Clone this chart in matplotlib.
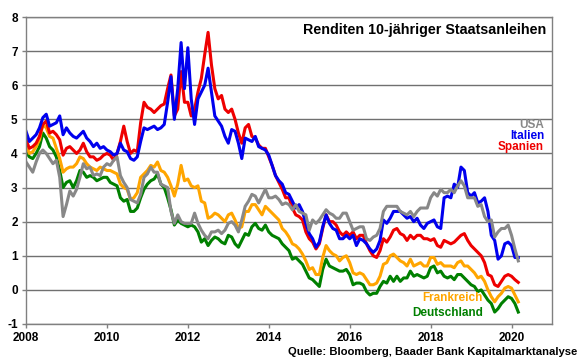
import matplotlib
matplotlib.use("Agg")
import matplotlib.pyplot as plt
import pandas as pd
import numpy as np

plt.rcParams['font.family'] = ['Liberation Sans', 'DejaVu Sans']
plt.rcParams['font.weight'] = 'bold'

dates = pd.date_range('2008-01-01', '2020-03-01', freq='MS')

italien = [
    4.65, 4.35, 4.45, 4.55, 4.75, 5.05, 5.15, 4.8, 4.85, 4.9, 5.1, 4.55,
    4.75, 4.6, 4.5, 4.45, 4.55, 4.65, 4.45, 4.35, 4.2, 4.3, 4.15, 4.2,
    4.1, 4.05, 3.95, 4.0, 4.3, 4.1, 4.05, 3.85, 3.8, 3.9, 4.35, 4.75,
    4.7, 4.75, 4.8, 4.7, 4.75, 4.85, 5.5, 6.25, 5.0, 5.9, 7.25, 5.9,
    7.1, 5.6, 4.85, 5.6, 5.8, 6.0, 6.5, 5.8, 5.1, 4.95, 4.8, 4.5,
    4.3, 4.7, 4.65, 4.3, 3.85, 4.45, 4.4, 4.35, 4.5, 4.2, 4.15, 4.1,
    3.95, 3.65, 3.35, 3.2, 3.1, 2.85, 2.8, 2.6, 2.4, 2.5, 2.3, 1.95,
    1.65, 1.5, 1.25, 1.4, 1.85, 2.2, 1.95, 1.8, 1.75, 1.5, 1.5, 1.6,
    1.5, 1.6, 1.3, 1.5, 1.45, 1.35, 1.2, 1.1, 1.2, 1.45, 2.05, 1.95,
    2.1, 2.3, 2.3, 2.3, 2.2, 2.1, 2.15, 2.0, 2.1, 1.9, 1.8, 1.95,
    2.0, 2.05, 1.85, 1.8, 2.7, 2.75, 2.7, 3.1, 3.0, 3.6, 3.5, 2.85,
    2.75, 2.85, 2.55, 2.6, 2.7, 2.3, 1.6, 1.45, 0.9, 1.0, 1.35, 1.4,
    1.3, 0.95, 0.95,
]
spanien = [
    4.4, 4.15, 4.2, 4.3, 4.5, 4.85, 4.95, 4.6, 4.65, 4.55, 4.4, 3.95,
    4.15, 4.2, 4.1, 4.0, 4.1, 4.3, 4.05, 3.9, 3.9, 3.8, 3.85, 3.95,
    4.0, 3.95, 3.8, 4.0, 4.35, 4.8, 4.35, 4.0, 4.1, 4.05, 4.9, 5.5,
    5.35, 5.3, 5.2, 5.3, 5.4, 5.45, 5.9, 6.3, 5.1, 5.3, 6.4, 5.5,
    5.5, 5.1, 5.3, 5.8, 6.2, 6.9, 7.55, 6.6, 5.9, 5.6, 5.7, 5.3,
    5.2, 5.3, 5.0, 4.6, 4.3, 4.75, 4.85, 4.5, 4.45, 4.25, 4.15, 4.15,
    3.9, 3.65, 3.35, 3.15, 2.95, 2.7, 2.7, 2.4, 2.2, 2.15, 2.05, 1.7,
    1.5, 1.4, 1.2, 1.35, 1.8, 2.2, 2.0, 2.0, 1.9, 1.7, 1.6, 1.7,
    1.6, 1.7, 1.5, 1.6, 1.6, 1.35, 1.15, 1.0, 0.95, 1.15, 1.5, 1.4,
    1.55, 1.75, 1.8, 1.65, 1.6, 1.45, 1.6, 1.5, 1.6, 1.6, 1.5, 1.5,
    1.45, 1.5, 1.3, 1.25, 1.45, 1.4, 1.35, 1.4, 1.5, 1.6, 1.65, 1.45,
    1.3, 1.2, 1.1, 1.0, 0.8, 0.45, 0.4, 0.15, 0.1, 0.25, 0.4, 0.45,
    0.4, 0.3, 0.22,
]
frankreich = [
    4.25, 4.0, 4.05, 4.2, 4.4, 4.85, 4.75, 4.5, 4.45, 4.15, 3.85, 3.45,
    3.55, 3.6, 3.6, 3.7, 3.9, 3.85, 3.7, 3.6, 3.55, 3.5, 3.6, 3.55,
    3.5, 3.5, 3.45, 3.4, 3.1, 3.0, 2.95, 2.65, 2.7, 2.85, 3.3, 3.4,
    3.5, 3.65, 3.6, 3.75, 3.5, 3.45, 3.3, 3.05, 2.75, 3.1, 3.65, 3.2,
    3.25, 3.05, 3.0, 3.05, 2.6, 2.55, 2.1, 2.15, 2.25, 2.2, 2.1, 2.0,
    2.2, 2.25, 2.05, 1.8, 1.85, 2.3, 2.3, 2.5, 2.5, 2.35, 2.2, 2.45,
    2.35, 2.25, 2.15, 2.05, 1.8, 1.7, 1.55, 1.35, 1.3, 1.2, 1.05, 0.85,
    0.6, 0.65, 0.45, 0.45, 0.95, 1.3, 1.15, 1.05, 1.0, 0.85, 0.95, 1.0,
    0.8, 0.5, 0.45, 0.5, 0.45, 0.3, 0.15, 0.15, 0.2, 0.4, 0.75, 0.8,
    1.0, 1.05, 0.95, 0.85, 0.8, 0.7, 0.9, 0.7, 0.75, 0.8, 0.7, 0.7,
    0.95, 0.95, 0.75, 0.8, 0.7, 0.7, 0.7, 0.65, 0.8, 0.85, 0.7, 0.7,
    0.6, 0.5, 0.35, 0.4, 0.25, 0.0, -0.2, -0.35, -0.2, -0.1, 0.05, 0.1,
    0.05, -0.15, -0.35,
]
deutschland = [
    4.05, 3.9, 3.85, 4.0, 4.2, 4.6, 4.45, 4.2, 4.1, 3.9, 3.5, 3.0,
    3.15, 3.2, 3.0, 3.2, 3.5, 3.45, 3.3, 3.35, 3.3, 3.2, 3.25, 3.3,
    3.3, 3.15, 3.1, 3.05, 2.7, 2.6, 2.65, 2.3, 2.3, 2.4, 2.7, 2.95,
    3.1, 3.2, 3.25, 3.4, 3.1, 3.0, 2.7, 2.35, 1.9, 2.05, 1.95, 1.9,
    1.85, 1.9, 1.85, 1.7, 1.4, 1.5, 1.3, 1.45, 1.55, 1.5, 1.4, 1.35,
    1.6, 1.55, 1.35, 1.25, 1.45, 1.65, 1.6, 1.85, 1.95, 1.8, 1.75, 1.9,
    1.7, 1.6, 1.55, 1.5, 1.35, 1.25, 1.15, 0.9, 0.95, 0.85, 0.75, 0.55,
    0.35, 0.3, 0.2, 0.1, 0.6, 0.9, 0.7, 0.65, 0.6, 0.55, 0.55, 0.6,
    0.45, 0.15, 0.2, 0.2, 0.15, -0.05, -0.15, -0.1, -0.1, 0.1, 0.25, 0.2,
    0.4, 0.25, 0.4, 0.25, 0.35, 0.35, 0.55, 0.4, 0.45, 0.4, 0.35, 0.4,
    0.65, 0.7, 0.5, 0.55, 0.4, 0.35, 0.4, 0.3, 0.45, 0.45, 0.35, 0.25,
    0.15, 0.1, -0.05, 0.0, -0.15, -0.3, -0.4, -0.65, -0.55, -0.4, -0.3, -0.2,
    -0.25, -0.4, -0.65,
]
usa = [
    3.75, 3.6, 3.45, 3.75, 4.0, 4.1, 4.0, 3.85, 3.7, 3.8, 3.3, 2.15,
    2.5, 2.9, 2.75, 2.95, 3.3, 3.7, 3.55, 3.6, 3.35, 3.4, 3.35, 3.6,
    3.7, 3.65, 3.8, 3.9, 3.35, 3.15, 3.0, 2.65, 2.6, 2.55, 2.8, 3.3,
    3.4, 3.6, 3.45, 3.45, 3.1, 3.05, 3.0, 2.3, 1.95, 2.2, 2.0, 1.95,
    1.95, 1.95, 2.25, 1.95, 1.75, 1.6, 1.5, 1.7, 1.7, 1.75, 1.65, 1.75,
    1.95, 2.0, 1.9, 1.7, 2.05, 2.45, 2.6, 2.8, 2.75, 2.55, 2.75, 2.95,
    2.7, 2.7, 2.75, 2.65, 2.5, 2.55, 2.5, 2.35, 2.5, 2.3, 2.25, 2.2,
    1.75, 2.05, 1.95, 2.05, 2.2, 2.35, 2.25, 2.2, 2.1, 2.1, 2.25, 2.25,
    2.0, 1.75, 1.8, 1.85, 1.85, 1.5, 1.45, 1.55, 1.6, 1.8, 2.3, 2.45,
    2.45, 2.45, 2.45, 2.3, 2.25, 2.2, 2.3, 2.15, 2.3, 2.4, 2.4, 2.4,
    2.7, 2.85, 2.75, 2.95, 2.85, 2.85, 2.95, 2.85, 3.05, 3.2, 3.05, 2.7,
    2.7, 2.7, 2.45, 2.5, 2.15, 2.0, 2.05, 1.55, 1.7, 1.8, 1.8, 1.9,
    1.6, 1.2, 0.85,
]

x_ticks = [2008, 2010, 2012, 2014, 2016, 2018, 2020]
y_ticks = [-1, 0, 1, 2, 3, 4, 5, 6, 7, 8]

t = dates.year + (dates.month - 1) / 12.0

fig = plt.figure(figsize=(5.8, 3.59), dpi=100)
ax = fig.add_axes([26/580, 1 - 324/359, (552-26)/580, (324-17)/359])

c_usa = '#888888'
c_ita = '#0000EE'
c_esp = '#EE0000'
c_fra = '#FFA500'
c_deu = '#008000'
lw = 2.2
ax.plot(t, deutschland, color=c_deu, lw=lw)
ax.plot(t, frankreich, color=c_fra, lw=lw)
ax.plot(t, spanien, color=c_esp, lw=lw)
ax.plot(t, italien, color=c_ita, lw=lw)
ax.plot(t, usa, color=c_usa, lw=lw)

ax.set_xlim(2008, 2021)
ax.set_ylim(-1, 8)
ax.set_xticks(x_ticks)
ax.set_xticklabels([str(v) for v in x_ticks])
ax.set_yticks(y_ticks)
ax.set_yticklabels([str(v) for v in y_ticks])
ax.grid(axis='y', color='#707070', lw=1)
ax.set_axisbelow(True)
for s in ax.spines.values():
    s.set_color('#808080')
    s.set_linewidth(1)
ax.tick_params(axis='both', colors='#808080', length=3, width=1, labelsize=8.5,
               labelcolor='black')
ax.tick_params(axis='x', pad=2.5)
ax.tick_params(axis='y', pad=3)
for lab in ax.get_xticklabels() + ax.get_yticklabels():
    lab.set_fontweight('bold')

ax.text(0.99, 0.957, 'Renditen 10-jähriger Staatsanleihen', transform=ax.transAxes,
        ha='right', va='center', fontsize=10.3, fontweight='bold')
ax.text(0.985, 0.649, 'USA', color=c_usa, transform=ax.transAxes, ha='right', va='center',
        fontsize=8.5, fontweight='bold')
ax.text(0.985, 0.611, 'Italien', color=c_ita, transform=ax.transAxes, ha='right', va='center',
        fontsize=8.5, fontweight='bold')
ax.text(0.985, 0.575, 'Spanien', color=c_esp, transform=ax.transAxes, ha='right', va='center',
        fontsize=8.5, fontweight='bold')
ax.text(0.869, 0.085, 'Frankreich', color=c_fra, transform=ax.transAxes, ha='right', va='center',
        fontsize=8.5, fontweight='bold')
ax.text(0.869, 0.036, 'Deutschland', color=c_deu, transform=ax.transAxes, ha='right', va='center',
        fontsize=8.5, fontweight='bold')
fig.text(0.995, 1 - 352/359, 'Quelle: Bloomberg, Baader Bank Kapitalmarktanalyse',
         ha='right', va='center', fontsize=8.1, fontweight='bold')

fig.savefig('out.png', dpi=100)
